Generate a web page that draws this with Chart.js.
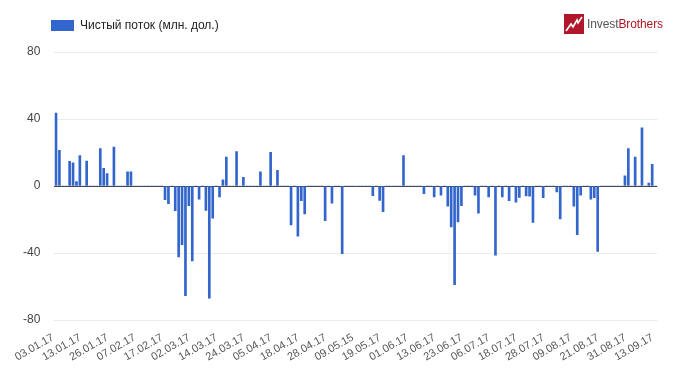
<!DOCTYPE html>
<html>
<head>
<meta charset="utf-8">
<script src="https://cdn.jsdelivr.net/npm/chart.js@4"></script>
<style>
  body { margin: 0; background: #fff; }
  #wrap { position: relative; width: 680px; height: 372px; font-family: 'Liberation Sans', Arial, sans-serif; }
  #legend { position: absolute; left: 51px; top: 19px; height: 12px; display: flex; align-items: center; font-size: 12px; color: #222; }
  #legend .box { width: 23px; height: 11px; background: #3366cc; margin-right: 6px; }
  #logo { position: absolute; left: 564px; top: 14px; height: 20px; display: flex; align-items: center; font-size: 12px; letter-spacing: -0.1px; }
  #logo .inv { color: #555; }
  #logo .bro { color: #b3141f; }
  #logo svg { margin-right: 3px; }
</style>
</head>
<body>
<div id="wrap">
  <canvas id="flowChart"></canvas>
  <div id="legend"><span class="box"></span>Чистый поток (млн. дол.)</div>
  <div id="logo">
    <svg width="20" height="20" viewBox="0 0 20 20">
      <rect width="20" height="20" fill="#b0172a"/>
      <polyline points="2,17 7,10 9,13 13,6 14,9 18,3" fill="none" stroke="#fff" stroke-width="1.6"/>
    </svg>
    <span class="inv">Invest</span><span class="bro">Brothers</span>
  </div>
</div>
<script>
// Net flow, one value per trading day (0 = no flow)
const values = [
    43.6, 21.3, 0, 0, 14.7, 13.8, 2.7, 18.2, 0, 14.9,
    0, 0, 0, 22.4, 10.6, 7.4, 0, 23.2, 0, 0,
    0, 8.4, 8.4, 0, 0, 0, 0, 0, 0, 0,
    0, 0, -8.2, -10.5, 0, -14.7, -42.4, -35.1, -65.5, -11.7,
    -44.8, 0, -7.8, 0, -14.6, -67.0, -19.2, 0, -6.5, 3.7,
    17.2, 0, 0, 20.5, 0, 5.2, 0, 0, 0, 0,
    8.5, 0, 0, 20.1, 0, 9.4, 0, 0, 0, -23.2,
    0, -30.0, -8.7, -16.6, 0, 0, 0, 0, 0, -20.7,
    0, -10.2, 0, 0, -40.4, 0, 0, 0, 0, 0,
    0, 0, 0, -5.8, 0, -8.6, -15.3, 0, 0, 0,
    0, 0, 18.1, 0, 0, 0, 0, 0, -4.6, 0,
    0, -6.5, 0, -5.4, 0, -12.1, -24.5, -58.9, -21.4, -11.8,
    0, 0, 0, -5.5, -16.2, 0, 0, -6.5, 0, -41.3,
    0, -6.5, 0, -8.8, 0, -9.6, -6.8, 0, -5.9, -6.0,
    -21.7, 0, 0, -7.0, 0, 0, 0, -3.5, -19.7, 0,
    0, 0, -12.0, -29.1, -5.4, 0, 0, -7.8, -6.9, -39.0,
    0, 0, 0, 0, 0, 0, 0, 6.0, 22.3, 0,
    17.2, 0, 34.8, 0, 1.8, 13.0, 0
];

// shown on every 8th day
const tickLabels = ['03.01.17', '13.01.17', '26.01.17', '07.02.17', '17.02.17', '02.03.17',
    '14.03.17', '24.03.17', '05.04.17', '18.04.17', '28.04.17', '09.05.15', '19.05.17',
    '01.06.17', '13.06.17', '23.06.17', '06.07.17', '18.07.17', '28.07.17', '09.08.17',
    '21.08.17', '31.08.17', '13.09.17'];
const yTicks = [-80, -40, 0, 40, 80];

const categories = values.map((v, i) => (i % 8 === 0 ? tickLabels[i / 8] : ''));

const ctx = document.getElementById('flowChart').getContext('2d');
new Chart(ctx, {
    type: 'bar',
    data: {
        labels: categories,
        datasets: [{
            label: 'Чистый поток (млн. дол.)',
            data: values,
            backgroundColor: '#3366cc',
            barThickness: 2
        }]
    },
    options: {
        responsive: true,
        maintainAspectRatio: false,
        animation: false,
        layout: {
            padding: { top: 52, right: 22.7, left: 0, bottom: 0 }
        },
        plugins: {
            legend: { display: false },
            tooltip: { enabled: false }
        },
        scales: {
            x: {
                grid: { display: false, drawTicks: false },
                border: { display: false },
                afterFit: s => { s.height = 52; },
                ticks: {
                    autoSkip: false,
                    maxRotation: 30,
                    minRotation: 30,
                    padding: 11,
                    labelOffset: -3,
                    color: '#555',
                    font: { family: 'Liberation Sans, Arial', size: 11 },
                    callback: (v, i) => categories[i] || null
                }
            },
            y: {
                min: -80,
                max: 80,
                afterFit: s => { s.width = 54.3; },
                afterBuildTicks: s => { s.ticks = yTicks.map(v => ({ value: v })); },
                grid: {
                    drawTicks: false,
                    color: c => (c.tick && c.tick.value === 0 ? '#444' : '#ebebeb')
                },
                border: { display: false },
                ticks: {
                    padding: 14,
                    color: '#444',
                    font: { family: 'Liberation Sans, Arial', size: 12 }
                }
            }
        }
    }
});
</script>
</body>
</html>
